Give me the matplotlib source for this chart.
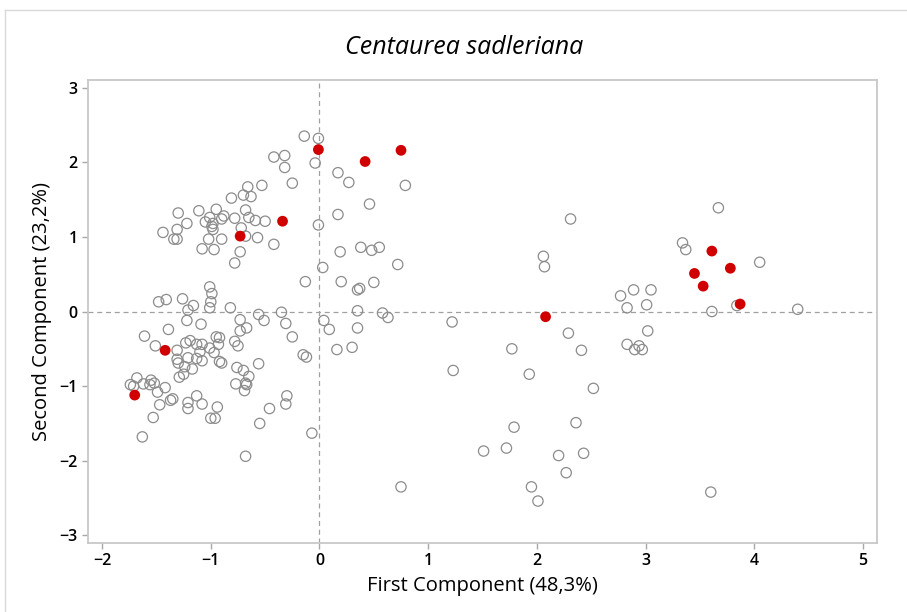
import numpy as np
import matplotlib.pyplot as plt
from matplotlib.lines import Line2D

plt.rcParams['font.family'] = ['Open Sans', 'DejaVu Sans']

# PCA scores, all samples (open markers)
pc1_all = [
    -0.14, -0.01, -0.04, -0.42, -0.32, -0.32, -0.25, -0.53, -0.66, -0.70,
    -0.63, -0.81, -1.11, -0.95, -0.68, -1.30, -1.22, -1.01, -0.88, -0.90,
    -1.05, -0.78, -0.65, -0.59, -0.50, -0.01, -0.98, -0.99, -0.98, -0.72,
    -1.31, -1.44, -1.34, -1.31, -0.68, -0.57, -1.02, -0.90, -1.08, -0.97,
    -0.73, -0.42, -0.78, 0.03, -0.13, -1.01, -0.99, -1.00, -1.01, -1.48,
    -1.41, -1.26, -1.16, -1.21, -0.82,
    -1.22, -0.73, -0.56, -0.51, -0.35, -0.31, 0.04, 0.09, -1.09, -1.39,
    -0.73, -0.67, -1.61, -0.25, -1.51, -1.31, -1.23, -1.19, -1.13, -1.08,
    -1.10, -1.01, -0.95, -0.92, -0.93, -0.97, -0.78, -0.75, -1.31, -1.30,
    -1.21, -1.24, -1.13, -1.08, -1.17, -1.29, -1.25, -0.92, -0.90, -0.56,
    -0.15, -0.12, -0.76, -0.70, -0.65, -1.68, -1.74, -1.71, -1.62, -1.55,
    -1.52, -1.56, -1.42, -0.77, -0.68, -0.67, -1.49, -1.37, -1.35, -1.47,
    -1.53, -1.63, -1.21, -1.21, -1.13, -1.08, -0.94, -1.00, -0.96, -0.69,
    -0.68, -0.55, -0.46, -0.31, -0.30, -0.07,
    0.17, 0.27, 0.79, 0.46, 0.17, 0.19, 0.38, 0.48, 0.55, 0.72,
    0.20, 0.50, 0.35, 0.37, 0.35, 0.58, 0.63, 0.35, 0.16, 0.30,
    0.75, 1.22, 1.23,
    1.77, 1.93, 2.06, 2.07, 1.79, 1.72, 1.51, 1.95, 2.01, 3.67,
    2.31, 3.34, 3.37, 4.05, 3.84, 3.61, 2.77, 2.89, 3.05, 3.01,
    2.83, 3.02, 2.29, 2.41, 2.83, 2.90, 2.94, 2.97, 2.52, 2.36,
    2.20, 2.43, 2.27, 3.60, 4.40,
]
pc2_all = [
    2.35, 2.32, 1.99, 2.07, 2.09, 1.93, 1.72, 1.69, 1.67, 1.56,
    1.54, 1.52, 1.35, 1.37, 1.36, 1.32, 1.18, 1.26, 1.28, 1.24,
    1.20, 1.25, 1.26, 1.22, 1.21, 1.16, 1.18, 1.14, 1.10, 1.12,
    1.10, 1.06, 0.97, 0.97, 1.01, 0.99, 0.97, 0.97, 0.84, 0.83,
    0.80, 0.90, 0.65, 0.59, 0.40, 0.33, 0.24, 0.13, 0.05, 0.13,
    0.16, 0.17, 0.08, 0.02, 0.05,
    -0.12, -0.11, -0.04, -0.12, -0.01, -0.16, -0.12, -0.24, -0.17, -0.24,
    -0.26, -0.22, -0.33, -0.34, -0.46, -0.52, -0.42, -0.39, -0.44, -0.44,
    -0.54, -0.49, -0.34, -0.35, -0.44, -0.55, -0.40, -0.46, -0.64, -0.69,
    -0.62, -0.74, -0.63, -0.66, -0.77, -0.88, -0.84, -0.67, -0.69, -0.70,
    -0.58, -0.61, -0.75, -0.79, -0.87, -0.89, -0.98, -1.00, -0.97, -0.92,
    -0.96, -0.98, -1.02, -0.97, -0.96, -0.98, -1.08, -1.19, -1.17, -1.25,
    -1.42, -1.68, -1.22, -1.30, -1.13, -1.24, -1.28, -1.43, -1.43, -1.06,
    -1.94, -1.50, -1.30, -1.24, -1.13, -1.63,
    1.86, 1.73, 1.69, 1.44, 1.30, 0.80, 0.86, 0.82, 0.86, 0.63,
    0.40, 0.39, 0.29, 0.31, 0.01, -0.02, -0.08, -0.22, -0.51, -0.48,
    -2.35, -0.14, -0.79,
    -0.50, -0.84, 0.74, 0.60, -1.55, -1.83, -1.87, -2.35, -2.54, 1.39,
    1.24, 0.92, 0.83, 0.66, 0.08, 0.00, 0.21, 0.29, 0.29, 0.09,
    0.05, -0.26, -0.29, -0.52, -0.44, -0.51, -0.46, -0.51, -1.03, -1.49,
    -1.93, -1.90, -2.16, -2.42, 0.03,
]

# highlighted samples (filled red)
pc1_sel = [-0.01, 0.42, 0.75, -0.34, -0.73, -1.42, -1.70, 2.08, 3.45, 3.53, 3.61, 3.78, 3.87]
pc2_sel = [2.17, 2.01, 2.16, 1.21, 1.01, -0.52, -1.12, -0.07, 0.51, 0.34, 0.81, 0.58, 0.10]

fig = plt.figure(figsize=(9.07, 6.12), dpi=100)
ax = fig.add_axes([0.097, 0.113, 0.870, 0.756])

# thin frame around the graph window
fig.add_artist(Line2D([5 / 907, 5 / 907], [0, 1 - 10 / 612], color='#d9d9d9', lw=1))
fig.add_artist(Line2D([5 / 907, 1], [1 - 10 / 612, 1 - 10 / 612], color='#d9d9d9', lw=1))

ax.axhline(0, color='#a0a0a0', lw=0.9, ls=(0, (4, 3)), zorder=1)
ax.axvline(0, color='#a0a0a0', lw=0.9, ls=(0, (4, 3)), zorder=1)

ax.scatter(pc1_all, pc2_all, s=55, facecolors='none', edgecolors='#8c8c8c',
           linewidths=0.9, zorder=2)
ax.scatter(pc1_sel, pc2_sel, s=60, color='#d00000', edgecolors='none', zorder=3)

ax.set_xlim(-2.13, 5.13)
ax.set_ylim(-3.1, 3.1)
ax.set_xticks(range(-2, 6))
ax.set_yticks(range(-3, 4))

for s in ax.spines.values():
    s.set_color('#c8c8c8')
    s.set_linewidth(1.3)
ax.tick_params(direction='out', length=4, width=1, color='#a8a8a8',
               labelsize=11.5, labelcolor='black')
for lab in ax.get_xticklabels() + ax.get_yticklabels():
    lab.set_fontweight('semibold')

ax.set_xlabel('First Component (48,3%)', fontsize=14.5, labelpad=5)
ax.set_ylabel('Second Component (23,2%)', fontsize=14.5, labelpad=5)
fig.text(0.512, 0.922, 'Centaurea sadleriana', fontsize=18, style='italic',
         ha='center', va='center')

fig.savefig('out.png', dpi=100)
